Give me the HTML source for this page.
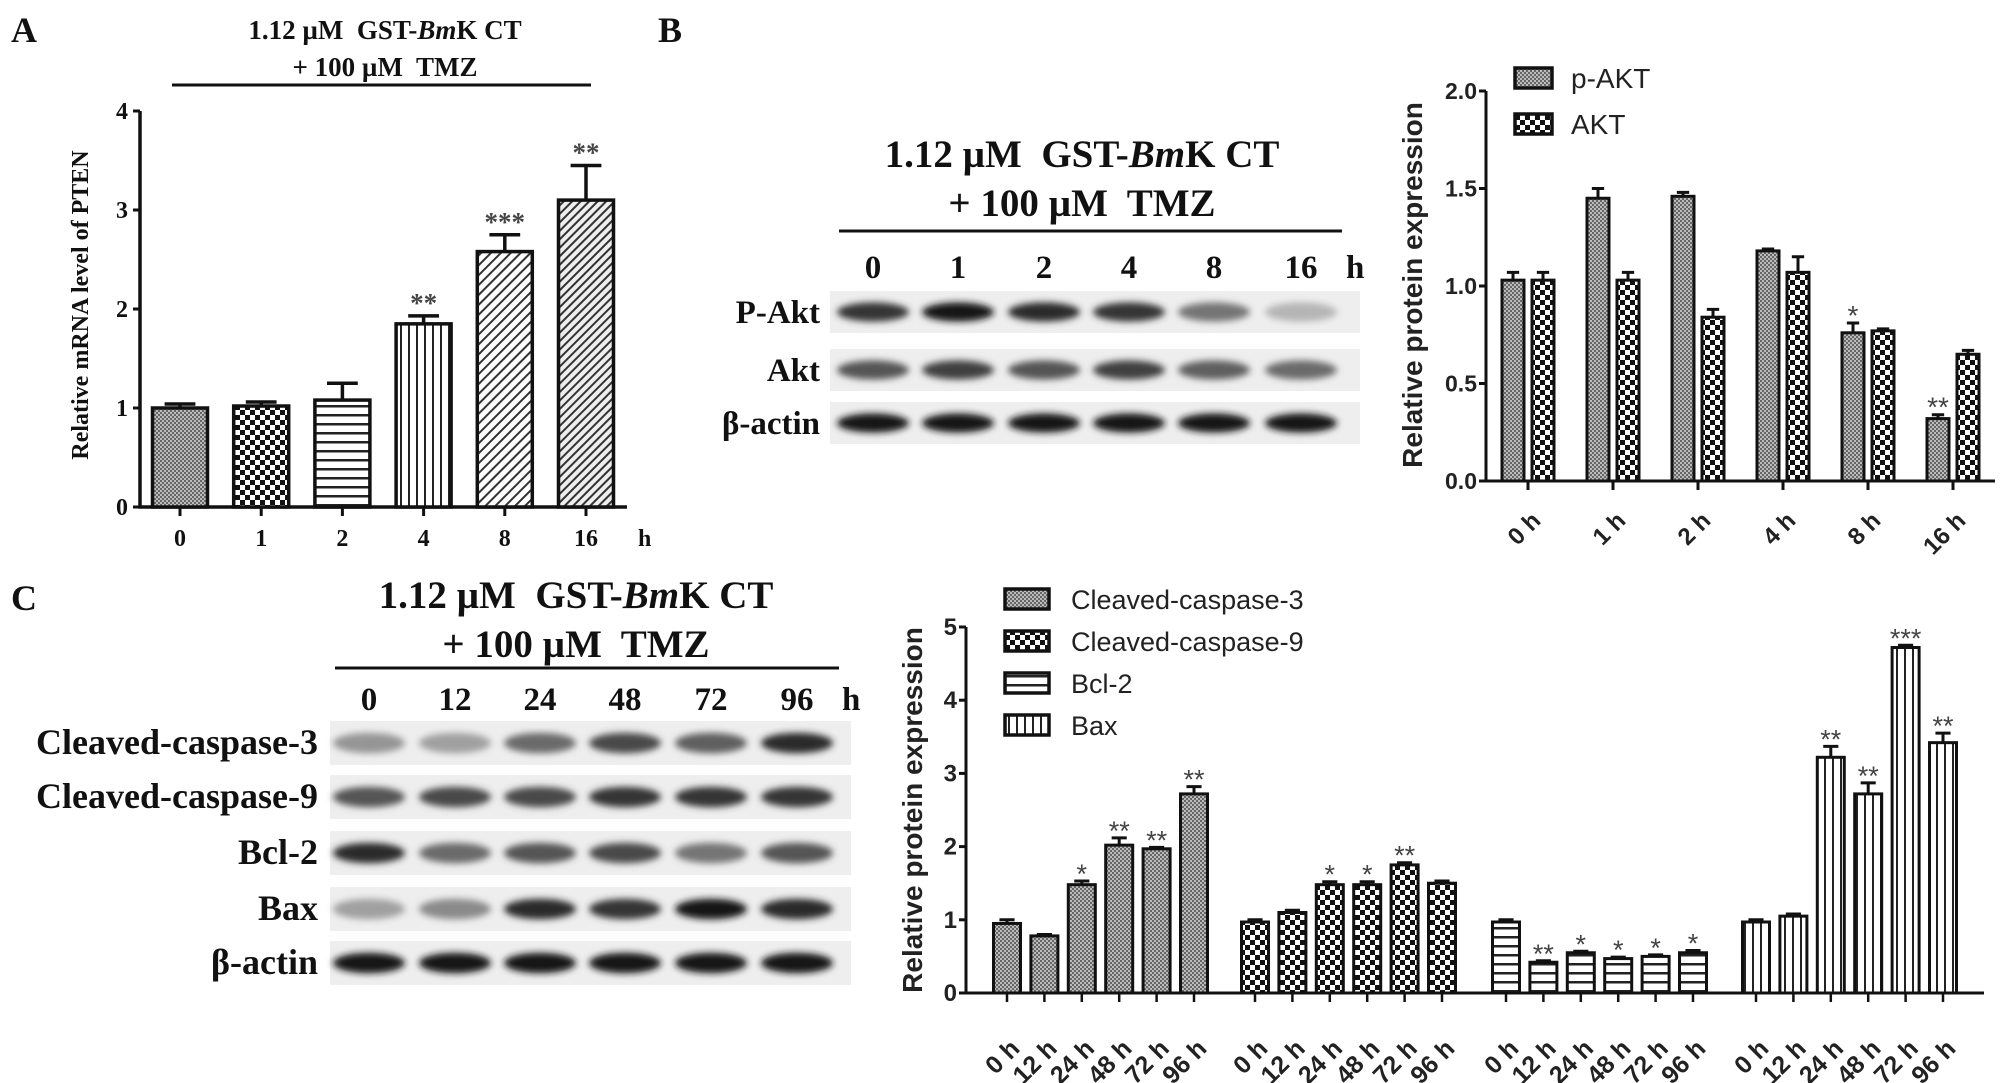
<!DOCTYPE html>
<html><head><meta charset="utf-8">
<style>
html,body{margin:0;padding:0;background:#fff;}
svg{display:block;}
.serif{font-family:"Liberation Serif",serif;font-weight:bold;fill:#111;}
.sans{font-family:"Liberation Sans",sans-serif;fill:#222;}
</style></head>
<body>
<svg id="fig" width="2008" height="1083" viewBox="0 0 2008 1083" xmlns="http://www.w3.org/2000/svg">
<defs>
  <pattern id="pGrid" width="4" height="4" patternUnits="userSpaceOnUse"><rect width="4" height="4" fill="#bbb"/><rect width="2" height="2" fill="#666"/><rect x="2" y="2" width="2" height="2" fill="#666"/></pattern>
  <pattern id="pCheck" width="10" height="10" patternUnits="userSpaceOnUse"><rect width="10" height="10" fill="#fff"/><rect width="5" height="5" fill="#111"/><rect x="5" y="5" width="5" height="5" fill="#111"/></pattern>
  <pattern id="pHor" width="6" height="9" patternUnits="userSpaceOnUse"><rect width="6" height="9" fill="#fff"/><rect y="0" width="6" height="2.5" fill="#222"/></pattern>
  <pattern id="pVer" width="8" height="6" patternUnits="userSpaceOnUse"><rect width="8" height="6" fill="#fff"/><rect x="0" width="2" height="6" fill="#222"/></pattern>
  <pattern id="pDiag" width="7" height="7" patternUnits="userSpaceOnUse" patternTransform="rotate(45)"><rect width="7" height="7" fill="#fff"/><rect width="2" height="7" fill="#333"/></pattern>
  <pattern id="pDiag2" width="6" height="6" patternUnits="userSpaceOnUse" patternTransform="rotate(45)"><rect width="6" height="6" fill="#eee"/><rect width="2" height="6" fill="#333"/></pattern>
  <filter id="blur" x="-20%" y="-50%" width="140%" height="200%"><feGaussianBlur stdDeviation="3.5"/></filter>
</defs>

<!-- Panel A -->
<text class="serif" x="11" y="42" font-size="36">A</text>
<text class="serif" x="385" y="39" font-size="27" text-anchor="middle">1.12 µM&#160; GST-<tspan font-style="italic">Bm</tspan>K CT</text>
<text class="serif" x="385" y="76" font-size="27" text-anchor="middle">+ 100 µM&#160; TMZ</text>
<line x1="172" y1="85" x2="591" y2="85" stroke="#111" stroke-width="3"/>
<text class="serif" transform="translate(88,305) rotate(-90)" font-size="24" text-anchor="middle">Relative mRNA level of PTEN</text>
<g id="chartA"></g>

<!-- Panel B -->
<text class="serif" x="658" y="42" font-size="36">B</text>
<text class="serif" x="1082" y="167" font-size="39" text-anchor="middle">1.12 µM&#160; GST-<tspan font-style="italic">Bm</tspan>K CT</text>
<text class="serif" x="1082" y="216" font-size="39" text-anchor="middle">+ 100 µM&#160; TMZ</text>
<line x1="839" y1="231" x2="1342" y2="231" stroke="#111" stroke-width="3"/>
<g id="blotB"></g>
<text class="sans" transform="translate(1422,285) rotate(-90)" font-size="28" font-weight="bold" text-anchor="middle">Relative protein expression</text>
<g id="chartB"></g>

<!-- Panel C -->
<text class="serif" x="11" y="610" font-size="36">C</text>
<text class="serif" x="576" y="608" font-size="39" text-anchor="middle">1.12 µM&#160; GST-<tspan font-style="italic">Bm</tspan>K CT</text>
<text class="serif" x="576" y="657" font-size="39" text-anchor="middle">+ 100 µM&#160; TMZ</text>
<line x1="335" y1="668" x2="839" y2="668" stroke="#111" stroke-width="3"/>
<g id="blotC"></g>
<text class="sans" transform="translate(922,810) rotate(-90)" font-size="28" font-weight="bold" text-anchor="middle">Relative protein expression</text>
<g id="chartC"></g>
</svg>

<script>
// ---------- Panel A data ----------
const aCategories = ["0","1","2","4","8","16"];
const aValues = [1.0, 1.02, 1.08, 1.85, 2.58, 3.10];
const aErrTop = [1.04, 1.06, 1.25, 1.93, 2.75, 3.45];
const aStars = ["","","","**","***","**"];
const aTicks = [0,1,2,3,4];
const aFills = ["url(#pGrid)","url(#pCheck)","url(#pHor)","url(#pVer)","url(#pDiag)","url(#pDiag2)"];

// ---------- Panel B data ----------
const bCategories = ["0 h","1 h","2 h","4 h","8 h","16 h"];
const bPAkt = [1.03, 1.45, 1.46, 1.18, 0.76, 0.32];
const bPAktErr = [1.07, 1.50, 1.48, 1.19, 0.81, 0.34];
const bAkt = [1.03, 1.03, 0.84, 1.07, 0.77, 0.65];
const bAktErr = [1.07, 1.07, 0.88, 1.15, 0.78, 0.67];
const bPAktStars = ["","","","","*","**"];
const bTicks = [0, 0.5, 1.0, 1.5, 2.0];
const bTickLabels = ["0.0","0.5","1.0","1.5","2.0"];
const bSeriesNames = ["p-AKT","AKT"];

// ---------- Panel C data ----------
const cTimes = ["0 h","12 h","24 h","48 h","72 h","96 h"];
const cSeriesNames = ["Cleaved-caspase-3","Cleaved-caspase-9","Bcl-2","Bax"];
const cCasp3 = [0.95, 0.78, 1.48, 2.02, 1.97, 2.72];
const cCasp3Err = [1.00, 0.80, 1.53, 2.12, 1.99, 2.82];
const cCasp9 = [0.97, 1.10, 1.48, 1.48, 1.75, 1.50];
const cCasp9Err = [1.00, 1.13, 1.52, 1.52, 1.78, 1.53];
const cBcl2 = [0.97, 0.42, 0.55, 0.47, 0.50, 0.55];
const cBcl2Err = [1.00, 0.44, 0.57, 0.49, 0.52, 0.58];
const cBax = [0.97, 1.05, 3.22, 2.72, 4.72, 3.42];
const cBaxErr = [1.00, 1.08, 3.37, 2.87, 4.75, 3.55];
const cStars1 = ["","","*","**","**","**"];
const cStars2 = ["","","*","*","**",""];
const cStars3 = ["","**","*","*","*","*"];
const cStars4 = ["","","**","**","***","**"];
const cTicks = [0,1,2,3,4,5];

// ---------- Blot data (band intensities 0..1) ----------
const bBlotRows = ["P-Akt","Akt","β-actin"];
const bBlotLanes = ["0","1","2","4","8","16"];
const bPAktBand = [0.85, 1.0, 0.9, 0.85, 0.55, 0.25];
const bAktBand = [0.7, 0.8, 0.7, 0.8, 0.65, 0.6];
const bActinBand = [1.0, 1.0, 1.0, 1.0, 1.0, 1.0];
const cBlotRows = ["Cleaved-caspase-3","Cleaved-caspase-9","Bcl-2","Bax","β-actin"];
const cBlotLanes = ["0","12","24","48","72","96"];
const cC3Band = [0.4, 0.35, 0.6, 0.75, 0.65, 0.9];
const cC9Band = [0.7, 0.75, 0.75, 0.85, 0.85, 0.85];
const cBcl2Band = [0.9, 0.6, 0.7, 0.75, 0.55, 0.7];
const cBaxBand = [0.35, 0.45, 0.9, 0.85, 1.0, 0.9];
const cActinBand = [1.0, 1.0, 1.0, 1.0, 1.0, 1.0];

const NS = "http://www.w3.org/2000/svg";
function mk(tag, attrs, parent){
  const e = document.createElementNS(NS, tag);
  for (const k in attrs) e.setAttribute(k, attrs[k]);
  parent.appendChild(e);
  return e;
}

function drawBar(g, x, w, y0, yv, yErr, fill, name, lw){
  const r = mk("rect", {x:x, y:yv, width:w, height:y0-yv, fill:fill, stroke:"#111", "stroke-width":lw}, g);
  
  
  if (yErr < yv - 1){
    const e = mk("path", {d:`M${x+w/2},${yv} V${yErr} M${x+w/2-w*0.28},${yErr} H${x+w/2+w*0.28}`, stroke:"#111", "stroke-width":lw, fill:"none"}, g);
    
    
  }
}
function star(g, x, y, s, size, cls, name){
  if (!s) return;
  const t = mk("text", {x:x, y:y, "font-size":size, "text-anchor":"middle", class:cls, style:"fill:#444"}, g);
  t.textContent = s;
  
  
}

// ===== Chart A =====
(function(){
  const g = document.getElementById("chartA");
  const X0 = 140, Y0 = 507, Ytop = 111, Xend = 627;
  const yS = v => Y0 - v * (Y0 - Ytop) / 4;
  const step = 81.2, first = 180, bw = 55;
  const xS = i => first + i * step;
  const ax = mk("path", {d:`M${X0},${Ytop} V${Y0} H${Xend}`, stroke:"#111","stroke-width":3.5, fill:"none"}, g);
  
  
  aTicks.forEach(t => {
    mk("line",{x1:X0-7,x2:X0,y1:yS(t),y2:yS(t),stroke:"#111","stroke-width":3},g);
    const tx = mk("text",{x:X0-12,y:yS(t)+8,"font-size":24,"text-anchor":"end",class:"serif"},g);
    tx.textContent = t;
    
    
  });
  aCategories.forEach((c,i) => {
    drawBar(g, xS(i)-bw/2, bw, Y0, yS(aValues[i]), yS(aErrTop[i]), aFills[i], 'panel-a-bar-' + c + 'h', 3.5);
    mk("line",{x1:xS(i),x2:xS(i),y1:Y0,y2:Y0+9,stroke:"#111","stroke-width":3},g);
    const tx = mk("text",{x:xS(i),y:546,"font-size":24,"text-anchor":"middle",class:"serif"},g);
    tx.textContent = c;
    
    
    star(g, xS(i), yS(aErrTop[i]) - 4, aStars[i], 27, "serif", 'panel-a-significance');
  });
  const h = mk("text",{x:638,y:546,"font-size":24,class:"serif"},g);
  h.textContent = "h";
  
  
})();

// ===== Chart B =====
(function(){
  const g = document.getElementById("chartB");
  const X0 = 1486, Y0 = 481, Ytop = 91, Xend = 1995;
  const yS = v => Y0 - v * (Y0 - Ytop) / 2;
  const xS = i => 1528 + i * 85;
  const bw = 22, off = 15;
  const ax = mk("path",{d:`M${X0},${Ytop} V${Y0} H${Xend}`,stroke:"#111","stroke-width":3,fill:"none"},g);
  
  
  bTicks.forEach((t,k) => {
    mk("line",{x1:X0-7,x2:X0,y1:yS(t),y2:yS(t),stroke:"#111","stroke-width":3},g);
    const tx = mk("text",{x:X0-9,y:yS(t)+8,"font-size":23,"font-weight":"bold","text-anchor":"end",class:"sans"},g);
    tx.textContent = bTickLabels[k];
    
    
  });
  bCategories.forEach((c,i) => {
    drawBar(g, xS(i)-off-bw/2, bw, Y0, yS(bPAkt[i]), yS(bPAktErr[i]), "url(#pGrid)", 'panel-b-bar-pakt-' + c.replace(' ',''), 3);
    drawBar(g, xS(i)+off-bw/2, bw, Y0, yS(bAkt[i]), yS(bAktErr[i]), "url(#pCheck)", 'panel-b-bar-akt-' + c.replace(' ',''), 3);
    star(g, xS(i)-off, yS(bPAktErr[i]) + 2, bPAktStars[i], 28, "sans", 'panel-b-significance');
    mk("line",{x1:xS(i),x2:xS(i),y1:Y0,y2:Y0+9,stroke:"#111","stroke-width":3},g);
    const tx = mk("text",{transform:`translate(${xS(i)+14},${522}) rotate(-45)`,"font-size":24,"font-weight":"bold","text-anchor":"end",class:"sans"},g);
    tx.textContent = c;
    
    
  });
  const fills = ["url(#pGrid)","url(#pCheck)"];
  bSeriesNames.forEach((n,k) => {
    const y = 78 + k*46;
    const r = mk("rect",{x:1515,y:y-10,width:37,height:20,fill:fills[k],stroke:"#111","stroke-width":3.5},g);
    
    
    const t = mk("text",{x:1571,y:y+10,"font-size":28,class:"sans"},g);
    t.textContent = n;
    
    
  });
})();

// ===== Chart C =====
(function(){
  const g = document.getElementById("chartC");
  const X0 = 966, Y0 = 993, Ytop = 627, Xend = 1984;
  const yS = v => Y0 - v * (Y0 - Ytop) / 5;
  const groupStart = [1007, 1255, 1506, 1756];
  const step = 37.4, bw = 27;
  const series = [cCasp3, cCasp9, cBcl2, cBax];
  const errs = [cCasp3Err, cCasp9Err, cBcl2Err, cBaxErr];
  const stars = [cStars1, cStars2, cStars3, cStars4];
  const fills = ["url(#pGrid)","url(#pCheck)","url(#pHor)","url(#pVer)"];
  const ax = mk("path",{d:`M${X0},${Ytop} V${Y0} H${Xend}`,stroke:"#111","stroke-width":3,fill:"none"},g);
  
  
  cTicks.forEach(t => {
    mk("line",{x1:X0-7,x2:X0,y1:yS(t),y2:yS(t),stroke:"#111","stroke-width":3},g);
    const tx = mk("text",{x:X0-9,y:yS(t)+8,"font-size":24,"font-weight":"bold","text-anchor":"end",class:"sans"},g);
    tx.textContent = t;
    
    
  });
  series.forEach((vals,s) => {
    vals.forEach((v,i) => {
      const x = groupStart[s] + i*step;
      drawBar(g, x-bw/2, bw, Y0, yS(v), yS(errs[s][i]), fills[s], 'panel-c-bar-' + cSeriesNames[s].toLowerCase() + '-' + cTimes[i].replace(' ',''), 3);
      star(g, x, yS(errs[s][i]) + 2, stars[s][i], 27, "sans", 'panel-c-significance');
      mk("line",{x1:x,x2:x,y1:Y0,y2:Y0+9,stroke:"#111","stroke-width":2.5},g);
      const tx = mk("text",{transform:`translate(${x+14},${1050}) rotate(-45)`,"font-size":25,"font-weight":"bold","text-anchor":"end",class:"sans"},g);
      tx.textContent = cTimes[i];
      
      
    });
  });
  cSeriesNames.forEach((n,k) => {
    const y = 599 + k*42;
    const r = mk("rect",{x:1005,y:y-10,width:44,height:20,fill:fills[k],stroke:"#111","stroke-width":3.5},g);
    
    
    const t = mk("text",{x:1071,y:y+10,"font-size":27,class:"sans"},g);
    t.textContent = n;
    
    
  });
})();

// ===== Blots =====
function blot(gid, rowNames, rowData, rowYs, rowH, laneXs, laneNames, x1, x2, labelX, labelSize, laneLabelY, hX, prefix){
  const g = document.getElementById(gid);
  rowData.forEach((arr, r) => {
    const y = rowYs[r];
    const bg = mk("rect",{x:x1,y:y-rowH/2-6,width:x2-x1,height:rowH+12,fill:"#eeeeee"},g);
    
    
    arr.forEach((v,i) => {
      const c = Math.round(235 - v*215);
      const band = mk("ellipse",{cx:laneXs[i],cy:y,rx:36,ry:rowH*0.32,fill:`rgb(${c},${c},${c})`,filter:"url(#blur)"},g);
      
      
    });
    const t = mk("text",{x:labelX,y:y+11,"font-size":labelSize,"text-anchor":"end",class:"serif"},g);
    t.textContent = rowNames[r];
    
    
  });
  laneNames.forEach((n,i) => {
    const t = mk("text",{x:laneXs[i],y:laneLabelY,"font-size":33,"text-anchor":"middle",class:"serif"},g);
    t.textContent = n;
    
    
  });
  const h = mk("text",{x:hX,y:laneLabelY,"font-size":33,class:"serif"},g);
  h.textContent = "h";
  
  
}
blot("blotB", bBlotRows, [bPAktBand,bAktBand,bActinBand], [312,370,423], 30,
     [873,958,1044,1129,1214,1301], bBlotLanes, 830, 1360, 820, 33, 278, 1346, 'panel-b');
blot("blotC", cBlotRows, [cC3Band,cC9Band,cBcl2Band,cBaxBand,cActinBand], [743,797,853,909,963], 32,
     [369,455,540,625,711,797], cBlotLanes, 330, 851, 318, 36, 710, 842, 'panel-c');
</script>
</body></html>
